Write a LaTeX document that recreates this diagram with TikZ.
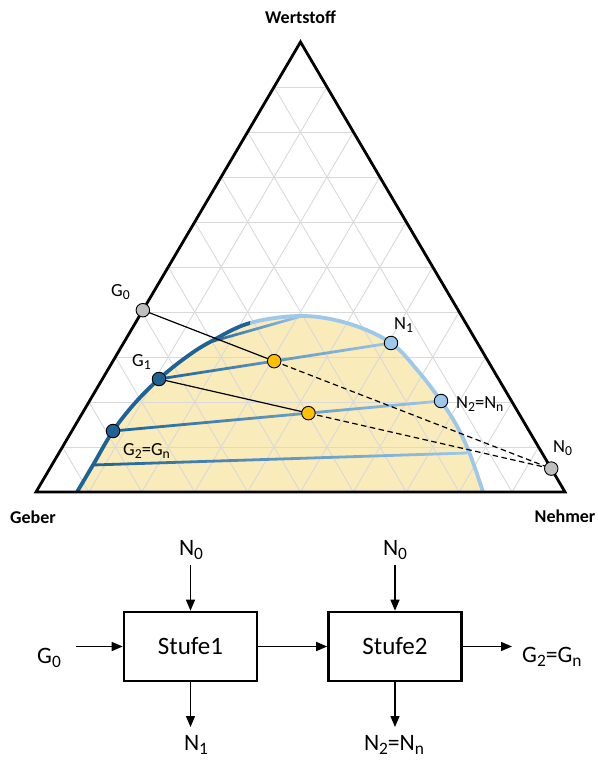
\documentclass[tikz,border=0pt]{standalone}
\usepackage{fontspec}
\usepackage{graphicx}
\setmainfont{Carlito}
\usetikzlibrary{calc,arrows.meta}
\definecolor{dblue}{RGB}{31,99,148}
\definecolor{lblue}{RGB}{157,200,233}
\definecolor{fillyel}{RGB}{250,235,186}
\definecolor{gridgray}{RGB}{217,217,217}
\definecolor{mgray}{RGB}{191,191,191}
\definecolor{morange}{RGB}{255,192,0}
\newcommand\sub[1]{\raisebox{-0.4ex}{\scalebox{0.74}{#1}}}
\begin{document}
\begin{tikzpicture}[x=1pt,y=-1pt,
  pt/.style={circle,draw=black,line width=0.9pt,minimum size=13.5pt,inner sep=0pt},
  lab/.style={font=\fontsize{18.5}{22}\selectfont,inner sep=0pt,anchor=base west},
  axlab/.style={font=\fontsize{18}{21}\selectfont\bfseries,inner sep=0pt,anchor=base},
  blab/.style={font=\fontsize{23.5}{26}\selectfont,inner sep=0pt,anchor=base},
  stufebox/.style={draw,line width=2.6pt,minimum width=133pt,minimum height=69pt,font=\fontsize{25}{28}\selectfont},
  arr/.style={line width=1.4pt,-{Triangle[length=11pt,width=9pt]}},
  gridline/.style={gridgray,line width=0.9pt},
  tieline/.style={left color=dblue,right color=lblue,draw=none},
  binline/.style={line width=3.8pt,line cap=butt},
]
\useasboundingbox (0,0) rectangle (597,762);
% triangle corners
\coordinate (A) at (36,492);
\coordinate (B) at (565,492);
\coordinate (C) at (300.5,42);
% characteristic points
\coordinate (G0) at ($(A)!0.404!(C)$);
\coordinate (N0) at ($(B)!0.052!(C)$);
\coordinate (G1) at (159,379);
\coordinate (G2) at (113,431);
\coordinate (N1) at (391,343);
\coordinate (N2) at (441,401);
\coordinate (T3a) at (93,465);
\coordinate (T3b) at (467,453);
\coordinate (T4a) at (210,342);
\coordinate (T4b) at (302,316);
\coordinate (M1) at (intersection of G0--N0 and G1--N1);
\coordinate (M2) at (intersection of G1--N0 and G2--N2);
% two-phase region
\fill[fillyel] plot[smooth,tension=0.6] coordinates {(77,492) (93,465) (113,431) (135,403) (159,379) (185,358) (210,342) (250,323) (303,316) (350,324) (391,343) (418,371) (441,401) (458,428) (471,457) (483,492)} -- cycle;
% grid
\foreach \t [evaluate=\t as \s using 1-\t] in {0.1,0.2,0.3,0.4,0.5,0.6,0.7,0.8,0.9} {
  \draw[gridline] ($(A)!\t!(C)$) -- ($(B)!\t!(C)$);
  \draw[gridline] ($(A)!\t!(B)$) -- ($(B)!\s!(C)$);
  \draw[gridline] ($(A)!\t!(B)$) -- ($(A)!\t!(C)$);
}
% tie lines
\shade[tieline] ($(G1)+(0,-1.4)$) -- ($(N1)+(0,-1.4)$) -- ($(N1)+(0,1.4)$) -- ($(G1)+(0,1.4)$) -- cycle;
\shade[tieline] ($(G2)+(0,-1.4)$) -- ($(N2)+(0,-1.4)$) -- ($(N2)+(0,1.4)$) -- ($(G2)+(0,1.4)$) -- cycle;
\shade[tieline] ($(T3a)+(0,-1.4)$) -- ($(T3b)+(0,-1.4)$) -- ($(T3b)+(0,1.4)$) -- ($(T3a)+(0,1.4)$) -- cycle;
\shade[tieline] ($(T4a)+(0,-1.4)$) -- ($(T4b)+(0,-1.4)$) -- ($(T4b)+(0,1.4)$) -- ($(T4a)+(0,1.4)$) -- cycle;
% binodal curve
\begin{scope}
\clip (250,0) rectangle (597,492);
\draw[binline,lblue] plot[smooth,tension=0.6] coordinates {(77,492) (93,465) (113,431) (135,403) (159,379) (185,358) (210,342) (250,323) (303,316) (350,324) (391,343) (418,371) (441,401) (458,428) (471,457) (483,492)};
\end{scope}
\begin{scope}
\clip (0,0) rectangle (250,492);
\draw[binline,dblue] plot[smooth,tension=0.6] coordinates {(77,492) (93,465) (113,431) (135,403) (159,379) (185,358) (210,342) (250,323) (303,316) (350,324) (391,343) (418,371) (441,401) (458,428) (471,457) (483,492)};
\end{scope}
% triangle
\draw[line width=2.8pt,line join=miter] (A) -- (B) -- (C) -- cycle;
% mixing lines
\draw[line width=1.2pt] (G0) -- (M1);
\draw[line width=1.2pt] (G1) -- (M2);
\draw[line width=1.2pt,dash pattern=on 5.5pt off 3.5pt] (M1) -- (N0);
\draw[line width=1.2pt,dash pattern=on 5.5pt off 3.5pt] (M2) -- (N0);
% markers
\node[pt,fill=mgray] (pG0) at (G0) {};
\node[pt,fill=mgray] (pN0) at (N0) {};
\node[pt,fill=dblue] (pG1) at (G1) {};
\node[pt,fill=dblue] (pG2) at (G2) {};
\node[pt,fill=lblue] (pN1) at (N1) {};
\node[pt,fill=lblue] (pN2) at (N2) {};
\node[pt,fill=morange] (pM1) at (M1) {};
\node[pt,fill=morange] (pM2) at (M2) {};
% point labels
\node[lab] (lG0) at (111,296) {G\sub{0}};
\node[lab] (lG1) at (132,366) {G\sub{1}};
\node[lab] (lG2) at (123,455) {G\sub{2}=G\sub{n}};
\node[lab] (lN1) at (394,329) {N\sub{1}};
\node[lab] (lN2) at (456,408) {N\sub{2}=N\sub{n}};
\node[lab] (lN0) at (553,452) {N\sub{0}};
% axis labels
\node[axlab] (wert) at (300.5,24) {Wertstoff};
\node[axlab] (geber) at (33,523) {Geber};
\node[axlab] (nehmer) at (565,522) {Nehmer};
% block diagram
\node[stufebox] (s1) at (190.5,646.5) {Stufe1};
\node[stufebox] (s2) at (395,646.5) {Stufe2};
\node[blab] (bN0a) at (191,555) {N\sub{0}};
\node[blab] (bN0b) at (395,555) {N\sub{0}};
\node[blab] (bN1) at (196,750) {N\sub{1}};
\node[blab] (bN2) at (394,750) {N\sub{2}=N\sub{n}};
\node[blab,anchor=base west] (bG0) at (37,663) {G\sub{0}};
\node[blab,anchor=base west] (bG2) at (522,662) {G\sub{2}=G\sub{n}};
\coordinate (a0) at (76,646.5);
\coordinate (a1) at (190.5,565);
\coordinate (a2) at (190.5,727);
\coordinate (a3) at (395,565);
\coordinate (a4) at (395,727);
\coordinate (a5) at (512,646.5);
\draw[arr] (a0) -- (s1.west);
\draw[arr] (a1) -- (s1.north);
\draw[arr] (s1.south) -- (a2);
\draw[arr] (s1.east) -- (s2.west);
\draw[arr] (a3) -- (s2.north);
\draw[arr] (s2.south) -- (a4);
\draw[arr] (s2.east) -- (a5);
\end{tikzpicture}
\end{document}
